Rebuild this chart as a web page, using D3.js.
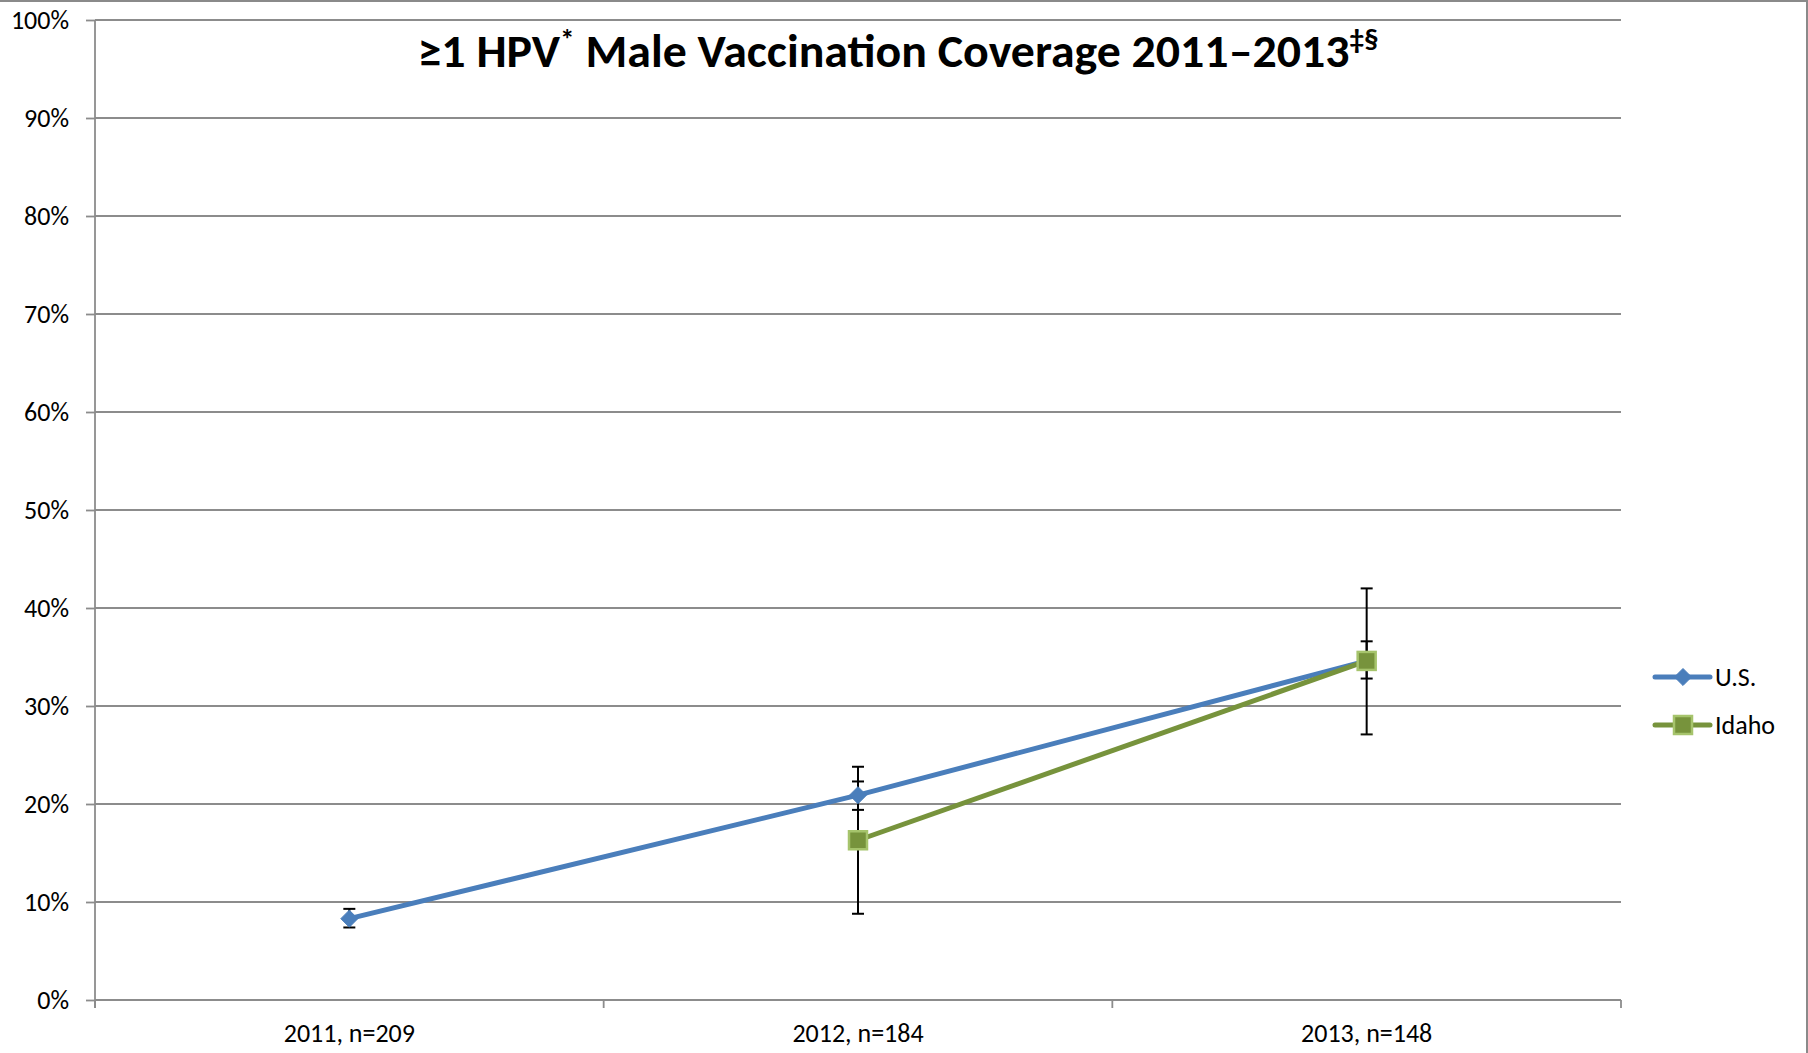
<!DOCTYPE html>
<html>
<head>
<meta charset="utf-8">
<script src="https://cdn.jsdelivr.net/npm/d3@7/dist/d3.min.js"></script>
<style>
  html, body { margin: 0; padding: 0; background: #fff; }
  svg { display: block; }
  text { font-family: Carlito, Calibri, Lato, "Open Sans", sans-serif; fill: #000; }
</style>
</head>
<body>
<svg id="chart" width="1808" height="1053"></svg>
<script>
// ---- Data ----
const categories = ["2011, n=209", "2012, n=184", "2013, n=148"];
const usValues   = [8.3, 20.9, 34.6];
const usLow      = [7.4, 19.4, 32.8];
const usHigh     = [9.3, 22.3, 36.6];
const idahoValues = [null, 16.3, 34.6];
const idahoLow    = [null, 8.8, 27.1];
const idahoHigh   = [null, 23.8, 42.0];
const yTicks = [0, 10, 20, 30, 40, 50, 60, 70, 80, 90, 100];
const seriesNames = ["U.S.", "Idaho"];

const series = [
  { name: seriesNames[0], values: usValues, low: usLow, high: usHigh, color: "#4A7EBB", marker: "diamond" },
  { name: seriesNames[1], values: idahoValues, low: idahoLow, high: idahoHigh, color: "#77933C", marker: "square" }
];

const svg = d3.select("#chart");

// outer chart border (top & right visible)
svg.append("line").attr("x1", 0).attr("x2", 1808).attr("y1", 1).attr("y2", 1)
  .attr("stroke", "#8a8a8a").attr("stroke-width", 2);
svg.append("line").attr("x1", 1807).attr("x2", 1807).attr("y1", 0).attr("y2", 1053)
  .attr("stroke", "#8a8a8a").attr("stroke-width", 2);

const pLeft = 95, pRight = 1621, pTop = 20, pBottom = 1000;
const x = d3.scaleBand().domain(categories).range([pLeft, pRight]).padding(0);
const y = d3.scaleLinear().domain([0, 100]).range([pBottom, pTop]);
const cx = c => x(c) + x.bandwidth() / 2;
const labelFont = "Carlito, Calibri, Lato, sans-serif";

// gridlines
svg.append("g").selectAll("line").data(yTicks.filter(d => d > 0)).join("line")
  .attr("x1", pLeft).attr("x2", pRight)
  .attr("y1", d => y(d)).attr("y2", d => y(d))
  .attr("stroke", "#8c8c8c").attr("stroke-width", 1.8);

// y axis
const yAxis = svg.append("g").attr("transform", `translate(${pLeft},0)`)
  .call(d3.axisLeft(y).tickValues(yTicks).tickSize(9).tickPadding(17).tickFormat(d => d + "%"));
yAxis.select(".domain").attr("stroke", "#8c8c8c").attr("stroke-width", 1.8)
  .attr("d", `M0,${pBottom + 8}V${pTop}`);
yAxis.selectAll(".tick line").attr("stroke", "#8c8c8c").attr("stroke-width", 1.8);
yAxis.selectAll(".tick text").style("font-size", "26px").style("font-family", labelFont).attr("fill", "#000");

// x axis
const xAxis = svg.append("g").attr("transform", `translate(0,${pBottom})`)
  .call(d3.axisBottom(x).tickSize(0).tickPadding(0));
xAxis.select(".domain").attr("stroke", "#8c8c8c").attr("stroke-width", 1.8)
  .attr("d", `M${pLeft},0H${pRight}`);
xAxis.selectAll(".tick text").attr("y", 42).attr("dy", 0)
  .style("font-size", "26px").style("font-family", labelFont).attr("fill", "#000");
// boundary tick marks (Excel style, between categories)
const boundaries = categories.map(c => x(c)).concat([x(categories[categories.length - 1]) + x.bandwidth()]);
xAxis.append("g").selectAll("line").data(boundaries).join("line")
  .attr("x1", d => d).attr("x2", d => d).attr("y1", 0).attr("y2", 8)
  .attr("stroke", "#8c8c8c").attr("stroke-width", 1.8);

// error bars
const eb = svg.append("g");
series.forEach(s => {
  categories.forEach((c, i) => {
    if (s.values[i] == null) return;
    const xx = cx(c);
    eb.append("line").attr("x1", xx).attr("x2", xx).attr("y1", y(s.low[i])).attr("y2", y(s.high[i]))
      .attr("stroke", "#000").attr("stroke-width", 2);
    [s.low[i], s.high[i]].forEach(v => {
      eb.append("line").attr("x1", xx - 6).attr("x2", xx + 6).attr("y1", y(v)).attr("y2", y(v))
        .attr("stroke", "#000").attr("stroke-width", 2);
    });
  });
});

// lines
const lineGen = d3.line().defined(d => d.v != null).x(d => cx(d.c)).y(d => y(d.v));
function drawMarker(g, s, px, py) {
  if (s.marker === "diamond") {
    g.append("path").attr("d", d3.symbol().type(d3.symbolDiamond2).size(185)())
      .attr("transform", `translate(${px},${py})`)
      .attr("fill", s.color).attr("stroke", s.color).attr("stroke-width", 1);
  } else {
    g.append("rect").attr("x", px - 9).attr("y", py - 9).attr("width", 18).attr("height", 18)
      .attr("fill", "#77933C").attr("stroke", "#A6C46C").attr("stroke-width", 2.5);
  }
}
series.forEach(s => {
  const g = svg.append("g");
  const pts = categories.map((c, i) => ({ c, v: s.values[i] }));
  g.append("path").datum(pts).attr("d", lineGen)
    .attr("fill", "none").attr("stroke", s.color).attr("stroke-width", 5).attr("stroke-linejoin", "round");
  pts.forEach(p => { if (p.v != null) drawMarker(g, s, cx(p.c), y(p.v)); });
});

// legend
const legend = svg.append("g");
series.forEach((s, i) => {
  const ly = 677 + i * 48;
  const g = legend.append("g");
  g.append("line").attr("x1", 1655).attr("x2", 1710).attr("y1", ly).attr("y2", ly)
    .attr("stroke", s.color).attr("stroke-width", 5).attr("stroke-linecap", "round");
  drawMarker(g, s, 1683, ly);
  g.append("text").attr("x", 1715).attr("y", ly + 9).text(s.name)
    .style("font-size", "26px");
});

// title
const title = svg.append("text").attr("x", 898).attr("y", 67).attr("text-anchor", "middle")
  .style("font-size", "46px").style("font-weight", "bold")
  .style("font-family", "Carlito, Calibri, 'Liberation Sans Narrow', 'Open Sans', sans-serif");
title.append("tspan").text("≥1 HPV");
title.append("tspan").text("*").attr("dy", -18).style("font-size", "28px");
title.append("tspan").text(" Male Vaccination Coverage 2011–2013").attr("dy", 18);
title.append("tspan").text("‡§").attr("dy", -18).style("font-size", "28px");
const tw = title.node().getComputedTextLength();
if (Math.abs(tw - 961) > 6) {
  title.attr("textLength", 961).attr("lengthAdjust", "spacingAndGlyphs");
}
</script>
</body>
</html>
